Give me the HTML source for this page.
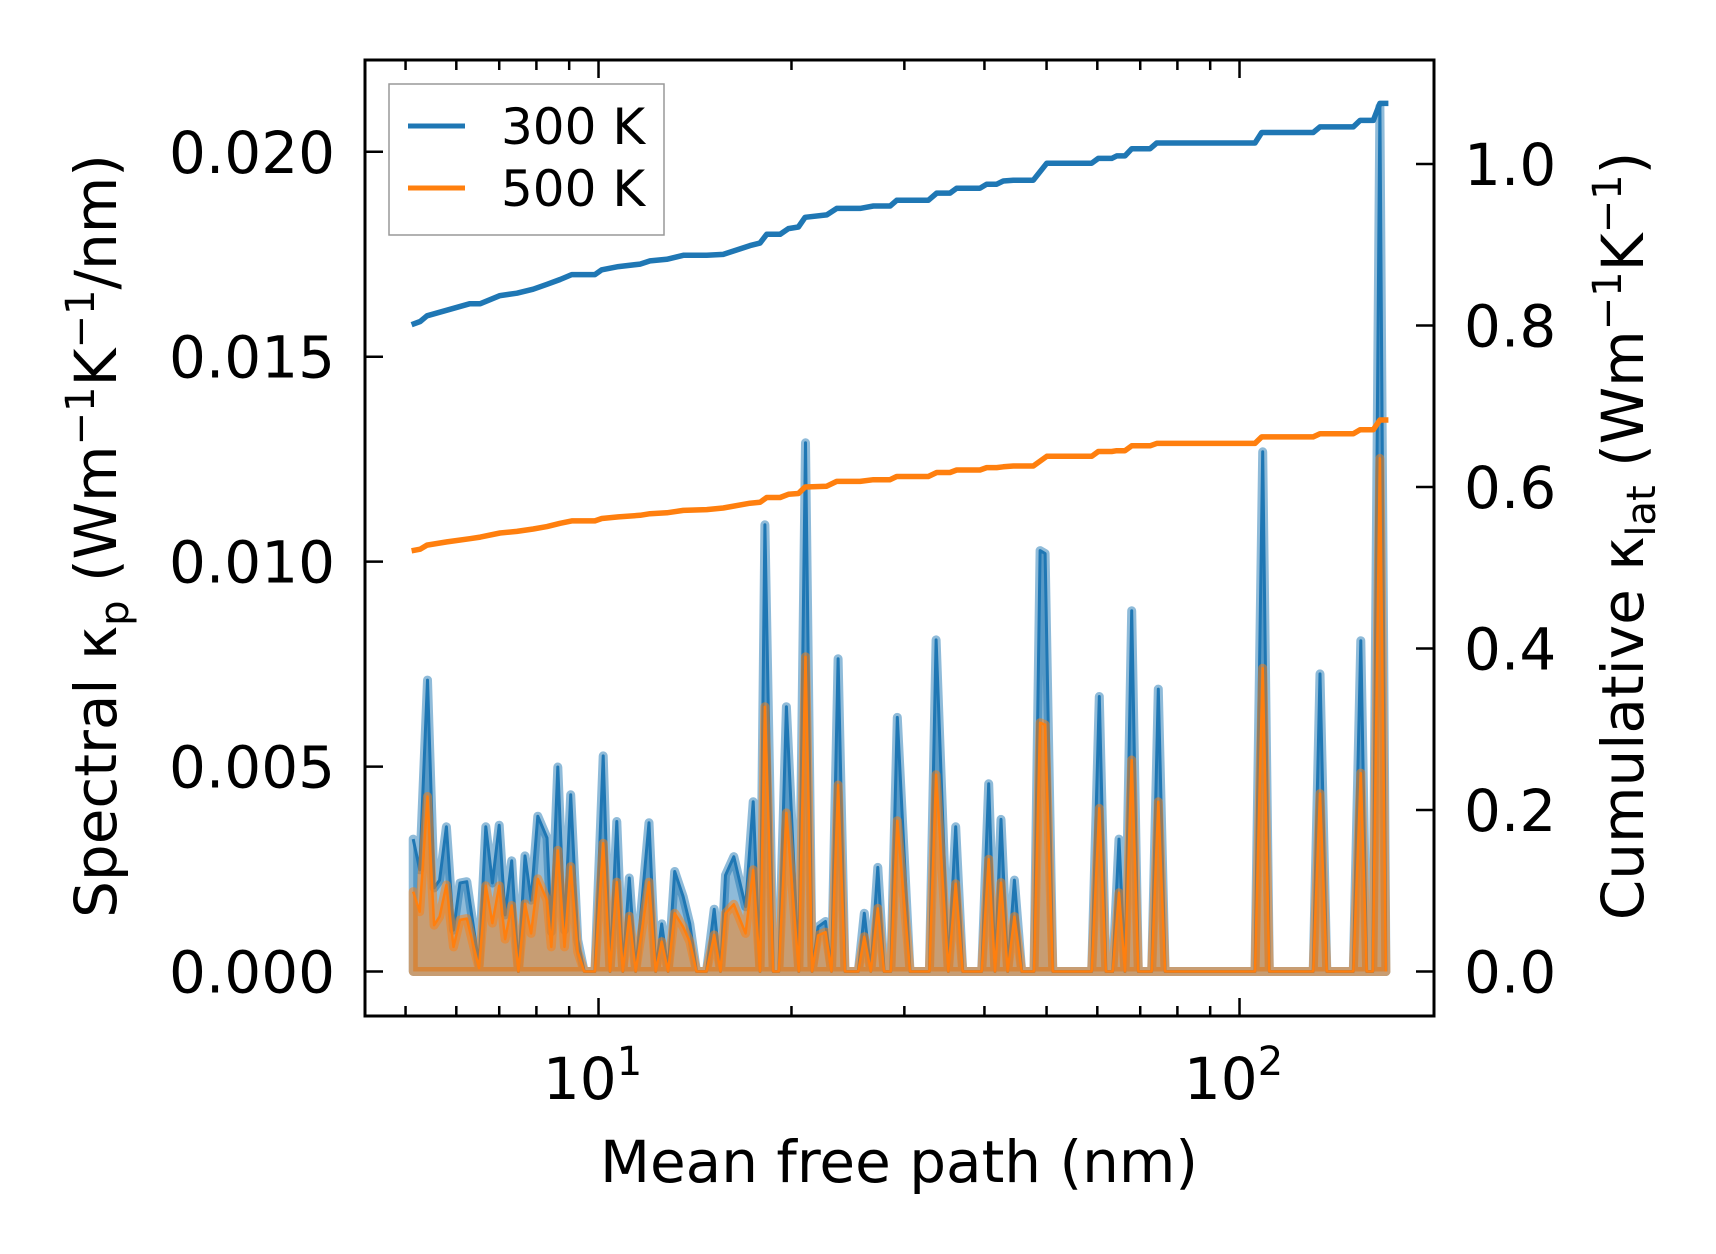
<!DOCTYPE html>
<html><head><meta charset="utf-8"><style>
html,body{margin:0;padding:0;background:#fff;}
svg{display:block;font-family:"DejaVu Sans","Liberation Sans",sans-serif;}
</style></head><body>
<svg id="chart" width="1716" height="1254" viewBox="0 0 1716 1254">
<g id="plot"></g>
<g id="axes"></g>
</svg>
<script>
const mfp = [5.14,5.26,5.41,5.54,5.65,5.79,5.94,6.08,6.23,6.51,6.67,6.83,7.00,7.15,7.32,7.50,7.68,7.85,8.04,8.31,8.44,8.64,8.85,9.05,9.28,9.50,9.87,10.17,10.42,10.68,10.91,11.17,11.43,11.99,12.28,12.55,12.84,13.15,13.55,13.88,14.22,14.74,15.15,15.50,15.78,16.26,16.96,17.43,17.86,18.18,18.73,19.11,19.64,20.53,21.03,21.54,22.01,22.60,23.09,23.65,24.24,25.43,25.98,26.59,27.27,27.89,28.57,29.25,30.62,32.82,33.62,35.13,36.08,37.00,39.61,40.62,41.55,42.45,43.49,44.54,45.73,47.80,48.85,49.74,51.13,58.81,60.43,61.89,63.41,64.86,66.27,67.88,69.51,72.95,74.70,76.53,105.7,108.7,111.3,130.3,133.5,136.8,150.5,154.6,157.9,161.4,165.6,169.2];
// spectral kappa, units of 1e-3 W/mK/nm
const spec300 = [3.23,2.48,7.11,2.04,2.23,3.53,1.01,2.16,2.19,0.16,3.53,2.16,3.57,1.38,2.70,0,2.82,1.74,3.79,3.26,0.97,4.99,1.01,4.31,0.77,0,0,5.26,0,3.66,0,2.28,0,3.63,0,1.16,0,2.44,1.83,1.16,0,0,1.52,0,2.35,2.80,1.58,4.14,0,10.9,0,0,6.46,0,12.9,0,1.09,1.22,0,7.63,0,0,1.42,0,2.54,0,0,6.20,0,0,8.09,0,3.53,0,0,4.58,0,3.71,0,2.23,0,0,10.27,10.20,0,0,6.71,0,0,3.23,0,8.80,0,0,6.89,0,0,12.68,0,0,7.26,0,0,8.07,0,0,21.1,0];
const spec500 = [1.95,1.46,4.27,1.13,1.34,2.11,0.60,1.26,1.29,0.08,2.09,1.18,2.09,0.79,1.61,0,1.65,0.93,2.26,1.74,0.60,2.96,0.60,2.56,0.48,0,0,3.13,0,2.18,0,1.35,0,2.18,0,0.73,0,1.42,1.09,0.73,0,0,0.89,0,1.42,1.64,0.93,2.48,0,6.46,0,0,3.87,0,7.68,0,0.88,0.96,0,4.55,0,0,0.85,0,1.54,0,0,3.68,0,0,4.80,0,2.14,0,0,2.74,0,2.17,0,1.34,0,0,6.07,6.02,0,0,3.98,0,0,1.92,0,5.16,0,0,4.14,0,0,7.40,0,0,4.34,0,0,4.84,0,0,12.52,0];
const cumX = [5.11,5.27,5.40,5.80,6.30,6.54,7.02,7.46,7.91,8.31,8.71,9.08,9.87,10.12,10.74,11.61,12.03,12.78,13.56,14.75,15.65,17.23,17.86,18.30,19.20,19.78,20.50,21.00,22.70,23.53,25.59,26.84,28.50,29.19,32.70,33.70,35.35,36.21,39.37,40.33,41.80,42.80,44.37,47.68,50.04,58.81,60.21,63.18,64.33,66.27,67.88,72.52,74.27,105.7,108.3,130.3,133.5,150.5,154.2,161.7,165.6,170.7];
const cum300 = [0.801,0.805,0.812,0.819,0.827,0.827,0.837,0.840,0.845,0.851,0.857,0.863,0.863,0.869,0.873,0.876,0.880,0.882,0.887,0.887,0.888,0.899,0.902,0.913,0.913,0.920,0.922,0.934,0.937,0.945,0.945,0.948,0.948,0.955,0.955,0.964,0.964,0.970,0.970,0.975,0.975,0.979,0.980,0.980,1.001,1.001,1.007,1.007,1.010,1.010,1.019,1.019,1.026,1.026,1.039,1.039,1.046,1.046,1.054,1.054,1.075,1.075];
const cum500 = [0.521,0.523,0.528,0.532,0.536,0.538,0.543,0.545,0.548,0.551,0.555,0.558,0.558,0.561,0.563,0.565,0.567,0.568,0.571,0.572,0.574,0.580,0.581,0.587,0.587,0.591,0.592,0.600,0.601,0.607,0.607,0.609,0.609,0.613,0.613,0.618,0.618,0.621,0.621,0.624,0.624,0.625,0.626,0.626,0.638,0.638,0.644,0.644,0.645,0.645,0.651,0.651,0.654,0.654,0.662,0.662,0.666,0.666,0.671,0.671,0.683,0.683];
const leftTicks = [0,5,10,15,20];
const leftTickLabels = ["0.000","0.005","0.010","0.015","0.020"];
const rightTicks = [0,0.2,0.4,0.6,0.8,1.0];
const rightTickLabels = ["0.0","0.2","0.4","0.6","0.8","1.0"];
const xMajor = [10,100];
const xMajorExp = ["1","2"];

const L=365,R=1434,T=60,B=1016;
const xLogMin=0.6357,xLogMax=2.3034;
const yLMin=-1.086,yLMax=22.24;
const yRMin=-0.0551,yRMax=1.1288;
const sx=v=>L+(Math.log10(v)-xLogMin)/(xLogMax-xLogMin)*(R-L);
const syL=v=>B-(v-yLMin)/(yLMax-yLMin)*(B-T);
const syR=v=>B-(v-yRMin)/(yRMax-yRMin)*(B-T);
const NS="http://www.w3.org/2000/svg";
function mk(tag,attrs,parent){const e=document.createElementNS(NS,tag);for(const k in attrs)e.setAttribute(k,attrs[k]);parent.appendChild(e);return e;}
const plot=document.getElementById('plot'), axes=document.getElementById('axes');

function area(vals,fill,name){
  let d='M'+sx(mfp[0])+','+syL(0);
  mfp.forEach((m,i)=>{d+=' L'+sx(m).toFixed(1)+','+syL(vals[i]).toFixed(1);});
  d+=' L'+sx(mfp[mfp.length-1])+','+syL(0)+' Z';
  const p=mk('path',{d:d,fill:fill,stroke:fill,'stroke-width':9,'stroke-linejoin':'round'},plot);
  
  
}
function line(xs,vals,fy,color,w,name){
  const pts=xs.map((m,i)=>sx(m).toFixed(1)+','+fy(vals[i]).toFixed(1)).join(' ');
  const p=mk('polyline',{points:pts,fill:'none',stroke:color,'stroke-width':w,'stroke-linejoin':'round'},plot);
  
  
}
area(spec300,'rgba(31,119,180,0.5)','spectral-300k-area');
line(mfp,spec300,syL,'#1f77b4',3,'spectral-300k-line');
area(spec500,'rgba(255,127,14,0.5)','spectral-500k-area');
line(mfp,spec500,syL,'#ff7f0e',2.5,'spectral-500k-line');
line(cumX,cum300,syR,'#1f77b4',5.5,'cumulative-300k-line');
line(cumX,cum500,syR,'#ff7f0e',5.5,'cumulative-500k-line');

const fr=mk('rect',{x:L,y:T,width:R-L,height:B-T,fill:'none',stroke:'#000','stroke-width':3},axes);


function tick(x1,y1,x2,y2,name){const t=mk('line',{x1:x1,y1:y1,x2:x2,y2:y2,stroke:'#000','stroke-width':2.5},axes);}
function txt(x,y,s,anchor,size,name){const t=mk('text',{x:x,y:y,'text-anchor':anchor,'font-size':size,fill:'#000'},axes);t.textContent=s;return t;}
leftTicks.forEach((v,i)=>{const y=syL(v);tick(L,y,L+18,y,'left-tick');txt(L-30,y+21,leftTickLabels[i],'end',58,'left-tick-label');});
rightTicks.forEach((v,i)=>{const y=syR(v);tick(R,y,R-18,y,'right-tick');txt(R+30,y+21,rightTickLabels[i],'start',58,'right-tick-label');});
xMajor.forEach((v,i)=>{const x=sx(v);tick(x,B,x,B-18,'x-major-tick');tick(x,T,x,T+18,'x-top-major-tick');
  const t=txt(x-6,B+83,'10','middle',58,'x-tick-label');const ts=mk('tspan',{dy:-24,'font-size':40},t);ts.textContent=xMajorExp[i];});
for(let dec=1;dec<=100;dec*=10){for(let k=2;k<=9;k++){const v=k*dec;const x=sx(v);if(x<L+2||x>R-2)continue;tick(x,B,x,B-10,'x-minor-tick');tick(x,T,x,T+10,'x-top-minor-tick');}}
txt(899,1182,'Mean free path (nm)','middle',58,'x-axis-title');
const yl=mk('text',{x:0,y:0,'text-anchor':'middle','font-size':58,transform:'translate(116,536) rotate(-90)'},axes);

yl.innerHTML='Spectral κ<tspan dy="12" font-size="40">p</tspan><tspan dy="-12"> (Wm</tspan><tspan dy="-22" font-size="40">−1</tspan><tspan dy="22">K</tspan><tspan dy="-22" font-size="40">−1</tspan><tspan dy="22">/nm)</tspan>';
const yr=mk('text',{x:0,y:0,'text-anchor':'middle','font-size':58,transform:'translate(1643,536) rotate(-90)'},axes);

yr.innerHTML='Cumulative κ<tspan dy="12" font-size="40">lat</tspan><tspan dy="-12"> (Wm</tspan><tspan dy="-22" font-size="40">−1</tspan><tspan dy="22">K</tspan><tspan dy="-22" font-size="40">−1</tspan><tspan dy="22">)</tspan>';
const lg=mk('g',{},axes);
mk('rect',{x:389,y:84,width:275,height:151,fill:'#fff',stroke:'#999','stroke-width':1.5,'fill-opacity':0.8},lg);
[['300 K','#1f77b4',126],['500 K','#ff7f0e',188]].forEach(e=>{
  const g=mk('g',{},lg);
  mk('line',{x1:408,y1:e[2],x2:465,y2:e[2],stroke:e[1],'stroke-width':5},g);
  const t=mk('text',{x:501,y:e[2]+18,'font-size':50},g);t.textContent=e[0];
});
</script>
</body></html>
